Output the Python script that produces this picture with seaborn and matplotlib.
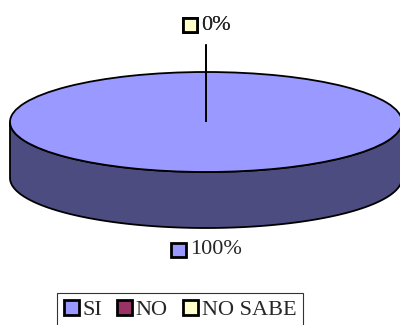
import numpy as np
import matplotlib
matplotlib.use("Agg")
import matplotlib.pyplot as plt
from matplotlib.patches import Polygon, Rectangle
from matplotlib.lines import Line2D
from matplotlib.offsetbox import AnnotationBbox, DrawingArea, HPacker, TextArea
import seaborn as sns

sns.set_style("white")
plt.rcParams["font.family"] = ["Liberation Serif", "DejaVu Serif"]

# data
categories = ["SI", "NO", "NO SABE"]
values = [100, 0, 0]
colors = ["#9999FF", "#993366", "#FFFFCC"]
side_colors = ["#4C4C80", "#4C1933", "#808066"]

depth = 1.12  # thickness of the disc, in y units

fig = plt.figure(figsize=(4.0, 3.25), dpi=100)
ax = fig.add_axes([0, 0, 1, 1])

# top face
wedges, _ = ax.pie(values, colors=colors, startangle=90, counterclock=False,
                   radius=1, center=(0, 0),
                   wedgeprops=dict(edgecolor="black", linewidth=1.3), normalize=True)
for w in wedges:
    w.set_zorder(3)

# side of the disc (front half only)
total = sum(values)
start = 90.0
for val, sc in zip(values, side_colors):
    sweep = 360.0 * val / total
    a1, a0 = start, start - sweep  # clockwise
    start = a0
    if sweep == 0:
        continue
    if sweep >= 360:
        lo, hi = 180, 360
    else:
        lo, hi = max(a0 % 360, 180), min(a1 % 360 or 360, 360)
        if hi <= lo:
            continue
    t = np.radians(np.linspace(lo, hi, 200))
    xs = np.cos(t)
    ys = np.sin(t)
    pts = np.vstack([np.column_stack([xs, ys]),
                     np.column_stack([xs[::-1], ys[::-1] - depth])])
    ax.add_patch(Polygon(pts, closed=True, facecolor=sc, edgecolor="black",
                         linewidth=1.3, zorder=2))

# data labels
start = 90.0
for cat, val, col in zip(categories, values, colors):
    sweep = 360.0 * val / total
    mid = np.radians(start - sweep / 2)
    start -= sweep
    if np.sin(mid) >= 0:
        ax.add_line(Line2D([0, 0], [1, 1.54], color="black", lw=1.3, zorder=4))
        y = 1.94
    else:
        y = -1 - depth - 0.44
    da = DrawingArea(12, 12, 0, 0)
    da.add_artist(Rectangle((0.8, 0.8), 10.4, 10.4, facecolor=col, edgecolor="black", lw=2.0))
    ta = TextArea(f"{val:.0f}%", textprops=dict(fontsize=16))
    box = HPacker(children=[da, ta], align="center", pad=0, sep=2)
    ax.add_artist(AnnotationBbox(box, (0, y), frameon=False, zorder=5))

ax.set_aspect("auto")
ax.set_xlim(-206 / 196, 194 / 196)
ax.set_ylim(-203 / 50, 122 / 50)
ax.axis("off")

handles = [Rectangle((0, 0), 1, 1, facecolor=c, edgecolor="black", lw=2.0) for c in colors]
leg = fig.legend(handles, categories, loc="upper center", bbox_to_anchor=(180 / 400, 1 - 293 / 325),
                 ncol=3, frameon=True, fancybox=False, fontsize=16,
                 handlelength=0.68, handleheight=0.68, handletextpad=0.15, columnspacing=0.7,
                 borderpad=0.3, borderaxespad=0, edgecolor="black")
leg.get_frame().set_linewidth(0.8)

fig.savefig("out.png", dpi=100)
